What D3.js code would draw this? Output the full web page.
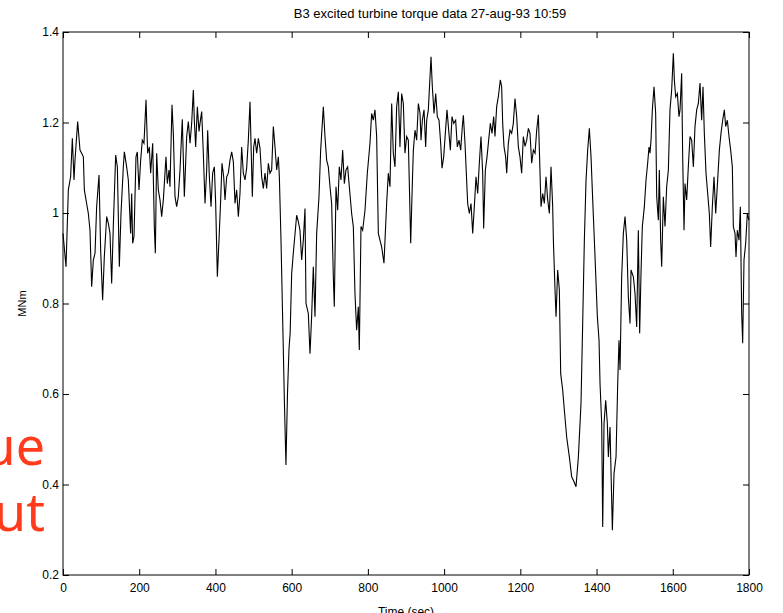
<!DOCTYPE html>
<html>
<head>
<meta charset="utf-8">
<script src="https://cdn.jsdelivr.net/npm/d3@7"></script>
<style>
  body { margin: 0; background: #fff; overflow: hidden; }
  text { font-family: "Liberation Sans", Arial, sans-serif; }
</style>
</head>
<body>
<script>
(function() {

  // time (sec) of each sample
  const timeSec = [
    0, 7.9, 14, 20, 24.5, 28.9, 31.5, 38.5, 44.6, 49, 53.4, 56, 62, 66.5, 70.8, 75.2, 79.6, 84, 88.3, 94.5,
    98.8, 104, 108.4, 114.6, 119, 123.3, 127.7, 132, 138.2, 142.6, 147.8, 152.2, 158.3, 161, 167, 171.4, 177.5, 180.2, 182.8, 186.3,
    191.5, 195, 199.4, 203.8, 208.1, 212.5, 217.8, 222.1, 226.5, 230, 235.3, 239.6, 242.3, 245.8, 250.1, 254.5, 258.9, 263.3, 270.2, 273.7,
    278.1, 280.7, 286, 289.5, 293.9, 298.2, 302.6, 307, 313, 318.4, 324.5, 328.9, 333.3, 337.6, 342, 344.6, 348.1, 352.5, 356.9, 359.5,
    363.9, 368.2, 372.6, 377, 379.6, 384, 388.4, 392.7, 397.1, 400.6, 405, 409.3, 413.7, 417.2, 421.6, 425.1, 429.5, 433.8, 438.2, 442.6,
    447, 451.3, 455.7, 460.1, 464.4, 468.8, 473.2, 477.6, 481.9, 486.3, 490.7, 493.3, 496.8, 500.3, 503.8, 508.2, 512.6, 516.9, 521.3, 525.7,
    530, 534.4, 538.8, 543.1, 547.5, 551.9, 556.3, 560.7, 565, 567.7, 572, 576, 581, 585, 589, 593, 596, 600, 604.3, 613.1,
    617.5, 621.8, 626.2, 630.6, 635, 637.6, 643.7, 648.1, 652.4, 656.8, 661.2, 665.6, 671.7, 676.1, 683.1, 687.4, 691.8, 696.2, 700.6, 704.9,
    709.3, 711.9, 716.3, 720.7, 725, 729.4, 733.8, 738.2, 742.5, 746.9, 751.3, 757.4, 761.8, 766.1, 770.5, 774.9, 777.5, 781.9, 786.3, 792.4,
    798.5, 805.5, 809.9, 814.3, 818.6, 823, 827.4, 831.7, 836.1, 842.2, 849.2, 853.6, 858, 862.4, 866.7, 871.1, 875.5, 879.9, 884.2, 888.6,
    893, 897.3, 901.7, 906.1, 912.3, 916.6, 919.3, 923.6, 928, 932.4, 936.8, 939.4, 942.9, 947.3, 951.6, 954.3, 958.6, 963, 965.6, 969.1,
    973.5, 977.9, 982.2, 986.6, 991, 994.5, 998.9, 1003.2, 1007.6, 1012, 1016.4, 1020.7, 1025.1, 1030.3, 1034.7, 1039.1, 1043.5, 1047.8, 1050.5, 1054.8,
    1058.3, 1061.8, 1066.2, 1070.6, 1075, 1079.3, 1083.7, 1088.1, 1092.4, 1096.8, 1101.2, 1103.8, 1108.2, 1112.6, 1116.9, 1121.3, 1125.7, 1130, 1133.5, 1137.9,
    1142.3, 1147.5, 1151, 1153.7, 1157.2, 1161.5, 1164.2, 1168.5, 1172.9, 1177.3, 1181.6, 1186, 1190.4, 1194.8, 1199.1, 1203.5, 1207.9, 1212.3, 1216.7, 1221.1,
    1225.4, 1229.8, 1234.2, 1238.6, 1242.9, 1247.3, 1251.7, 1254.3, 1258.7, 1263, 1267.4, 1271.8, 1276.2, 1280.5, 1284.9, 1286.7, 1291, 1293.7, 1298, 1302.4,
    1305.9, 1311.1, 1315.5, 1321.6, 1328.6, 1334.8, 1340.9, 1346.1, 1352.3, 1359.2, 1363.6, 1368, 1372.4, 1376.7, 1381.1, 1385.5, 1389.9, 1396, 1402.1, 1406.5,
    1409.1, 1413.5, 1416.1, 1419.6, 1424, 1428.3, 1431, 1435.3, 1441.5, 1445.8, 1451.1, 1455.5, 1458.9, 1461.6, 1465.9, 1470.3, 1474.7, 1479.1, 1483.4, 1487.8,
    1490.4, 1496.6, 1500.9, 1505.3, 1509.6, 1513.1, 1516.6, 1520.1, 1525.4, 1529.8, 1534.1, 1537.6, 1540.3, 1542.9, 1546.4, 1550.8, 1555.1, 1557.8, 1562.1, 1564.7,
    1568.2, 1570.9, 1575.2, 1579.6, 1584, 1588.4, 1592.7, 1597.1, 1601.5, 1604.1, 1607.6, 1612, 1616.3, 1619, 1623.3, 1626, 1629.5, 1632.1, 1636.5, 1640.8,
    1645.2, 1649.6, 1654, 1658.3, 1662.7, 1667.1, 1671.4, 1675.8, 1679.3, 1682.8, 1687.2, 1691.6, 1695.9, 1699.4, 1703.8, 1708.2, 1712.6, 1717.8, 1722.2, 1726.5,
    1730.9, 1735.3, 1738.8, 1743.2, 1747.5, 1751.9, 1756.3, 1758.9, 1763.3, 1765.9, 1769.4, 1773.8, 1777.3, 1780.8, 1783.4, 1786.9, 1791.3, 1795.6, 1800
  ];

  // turbine torque (MNm)
  const torque = [
    0.955, 0.881, 1.051, 1.080, 1.165, 1.073, 1.117, 1.202, 1.139, 1.132, 1.124, 1.051, 1.021, 0.999, 0.962, 0.837, 0.896, 0.911, 1.014, 1.084,
    0.918, 0.807, 0.903, 0.992, 0.977, 0.955, 0.844, 0.970, 1.128, 1.102, 0.881, 0.999, 1.102, 1.135, 1.102, 1.073, 0.955, 1.043, 0.933, 0.948,
    1.124, 1.135, 1.051, 1.117, 1.161, 1.154, 1.250, 1.132, 1.146, 1.088, 1.154, 0.970, 0.911, 1.132, 1.051, 1.029, 0.992, 1.029, 1.124, 1.065,
    1.095, 1.058, 1.239, 1.176, 1.036, 1.014, 1.036, 1.095, 1.207, 1.036, 1.169, 1.202, 1.154, 1.198, 1.272, 1.205, 1.146, 1.235, 1.180, 1.198,
    1.224, 1.132, 1.021, 1.095, 1.183, 1.080, 1.014, 1.088, 1.102, 1.021, 0.859, 0.940, 1.029, 1.110, 1.080, 1.029, 1.080, 1.088, 1.117, 1.135,
    1.113, 1.021, 1.051, 0.992, 1.043, 1.146, 1.088, 1.073, 1.099, 1.161, 1.246, 1.154, 1.036, 1.146, 1.165, 1.132, 1.165, 1.143, 1.080, 1.054,
    1.088, 1.054, 1.110, 1.088, 1.095, 1.191, 1.146, 1.095, 1.124, 1.080, 0.940, 0.780, 0.580, 0.443, 0.600, 0.700, 0.734, 0.866, 0.911, 0.995,
    0.981, 0.962, 0.896, 0.940, 1.010, 0.800, 0.778, 0.689, 0.771, 0.881, 0.771, 0.955, 1.036, 1.139, 1.235, 1.169, 1.117, 1.102, 1.058, 1.021,
    0.859, 0.793, 1.058, 1.006, 1.102, 1.073, 1.139, 1.065, 1.095, 1.102, 1.058, 0.999, 0.970, 0.822, 0.741, 0.793, 0.697, 0.970, 0.962, 1.006,
    1.088, 1.154, 1.220, 1.205, 1.228, 1.169, 0.955, 0.940, 0.925, 0.889, 1.021, 1.088, 1.058, 1.242, 1.132, 1.102, 1.235, 1.268, 1.146, 1.264,
    1.242, 1.132, 1.169, 1.161, 0.933, 1.065, 1.139, 1.183, 1.161, 1.242, 1.220, 1.161, 1.205, 1.228, 1.146, 1.205, 1.228, 1.301, 1.345, 1.279,
    1.220, 1.264, 1.213, 1.205, 1.154, 1.099, 1.124, 1.176, 1.228, 1.183, 1.139, 1.213, 1.198, 1.205, 1.146, 1.161, 1.139, 1.191, 1.216, 1.154,
    1.088, 1.021, 0.999, 1.021, 0.955, 1.014, 1.080, 1.043, 1.110, 1.169, 1.088, 0.966, 1.095, 1.124, 1.161, 1.198, 1.176, 1.213, 1.169, 1.235,
    1.257, 1.294, 1.279, 1.198, 1.146, 1.124, 1.088, 1.154, 1.183, 1.176, 1.198, 1.253, 1.213, 1.146, 1.124, 1.088, 1.169, 1.147, 1.161, 1.187,
    1.176, 1.110, 1.139, 1.132, 1.183, 1.217, 1.088, 1.014, 1.043, 1.021, 1.080, 1.029, 0.999, 1.102, 1.014, 0.940, 0.830, 0.771, 0.874, 0.830,
    0.645, 0.609, 0.564, 0.505, 0.461, 0.417, 0.406, 0.395, 0.461, 0.579, 0.756, 0.940, 1.073, 1.139, 1.187, 1.124, 1.029, 0.903, 0.771, 0.719,
    0.623, 0.535, 0.306, 0.535, 0.586, 0.535, 0.461, 0.527, 0.299, 0.424, 0.461, 0.623, 0.719, 0.653, 0.859, 0.955, 0.992, 0.940, 0.815, 0.756,
    0.874, 0.859, 0.822, 0.748, 0.962, 0.734, 0.866, 0.970, 1.014, 1.073, 1.110, 1.146, 1.132, 1.161, 1.228, 1.279, 1.220, 1.036, 0.984, 1.095,
    0.940, 0.881, 1.036, 0.970, 1.058, 1.095, 1.228, 1.272, 1.353, 1.294, 1.257, 1.264, 1.213, 1.228, 1.309, 1.124, 0.962, 1.065, 1.029, 1.102,
    1.169, 1.161, 1.102, 1.191, 1.228, 1.242, 1.287, 1.205, 1.279, 1.176, 1.088, 1.043, 0.999, 0.925, 1.014, 1.080, 0.999, 1.073, 1.139, 1.176,
    1.205, 1.228, 1.191, 1.205, 1.169, 1.139, 1.102, 0.970, 0.955, 0.903, 0.962, 0.940, 1.014, 0.778, 0.712, 0.896, 0.933, 0.999, 0.984
  ];

  const xTicks = [0, 200, 400, 600, 800, 1000, 1200, 1400, 1600, 1800];
  const yTicks = [0.2, 0.4, 0.6, 0.8, 1, 1.2, 1.4];

  const titleText = "B3 excited turbine torque data 27-aug-93 10:59";
  const slideWords = ["ue", "ut"];

  let margin = { top: 32, right: 34, bottom: 38, left: 63 };
  let width = 783 - margin.left - margin.right,
      height = 613 - margin.top - margin.bottom;

  let svg = d3.select("body")
    .append("svg")
    .attr("width", 783)
    .attr("height", 613);

  // leftover slide text, cut by the left edge
  svg.selectAll("text.slide")
    .data(slideWords)
    .enter()
    .append("text")
    .attr("class", "slide")
    .attr("x", 45)
    .attr("y", (d, i) => 465 + i * 66)
    .attr("text-anchor", "end")
    .style("font-family", "'Noto Sans', sans-serif")
    .style("font-size", "52px")
    .style("fill", "#ff3b1c")
    .text(d => d);

  let svgContainer = svg.append("g")
    .attr("transform", "translate(" + margin.left + "," + margin.top + ")");

  let xScale = d3.scaleLinear().domain([0, 1800]).range([0, width]);
  let yScale = d3.scaleLinear().domain([0.2, 1.4]).range([height, 0]);

  drawAxes(xScale, yScale);

  let data = timeSec.map((t, i) => ({ t: t, v: torque[i] }));

  let line = d3.line()
    .x(d => xScale(d.t))
    .y(d => yScale(d.v));

  svgContainer.append("path")
    .datum(data)
    .attr("d", line)
    .attr("fill", "none")
    .attr("stroke", "#000")
    .attr("stroke-width", 1.1)
    .attr("stroke-linejoin", "miter");

  // title
  svgContainer.append("text")
    .attr("x", width / 2 + 24)
    .attr("y", -14)
    .attr("text-anchor", "middle")
    .style("font-size", "13px")
    .text(titleText);

  function drawAxes(xScale, yScale) {
    // bottom
    let gx = svgContainer.append("g")
      .attr("transform", "translate(0," + height + ")")
      .call(d3.axisBottom(xScale)
        .tickValues(xTicks)
        .tickSizeInner(-6)
        .tickSizeOuter(0)
        .tickPadding(8)
        .tickFormat(d3.format("d")));

    // top, ticks only
    let gxt = svgContainer.append("g")
      .call(d3.axisTop(xScale)
        .tickValues(xTicks)
        .tickSizeInner(-6)
        .tickSizeOuter(0)
        .tickFormat(""));

    // left
    let gy = svgContainer.append("g")
      .call(d3.axisLeft(yScale)
        .tickValues(yTicks)
        .tickSizeInner(-6)
        .tickSizeOuter(0)
        .tickPadding(4)
        .tickFormat(d => d3.format("")(d)));

    // right, ticks only
    let gyr = svgContainer.append("g")
      .attr("transform", "translate(" + width + ",0)")
      .call(d3.axisRight(yScale)
        .tickValues(yTicks)
        .tickSizeInner(-6)
        .tickSizeOuter(0)
        .tickFormat(""));

    [gx, gxt, gy, gyr].forEach(g => {
      g.selectAll("text")
        .style("font-family", "'Liberation Sans', Arial, sans-serif")
        .style("font-size", "12px")
        .style("fill", "#000");
      g.selectAll("line").attr("stroke", "#000");
      g.select(".domain").remove();
    });

    svgContainer.append("rect")
      .attr("width", width)
      .attr("height", height)
      .attr("fill", "none")
      .attr("stroke", "#000")
      .attr("stroke-width", 1);

    // x label, partly below the window
    svgContainer.append("text")
      .attr("x", width / 2)
      .attr("y", height + 41)
      .attr("text-anchor", "middle")
      .style("font-size", "12px")
      .text("Time (sec)");

    // y label
    svgContainer.append("text")
      .attr("transform", "rotate(-90)")
      .attr("x", -height / 2)
      .attr("y", -37)
      .attr("text-anchor", "middle")
      .style("font-size", "11px")
      .text("MNm");
  }
})();
</script>
</body>
</html>
